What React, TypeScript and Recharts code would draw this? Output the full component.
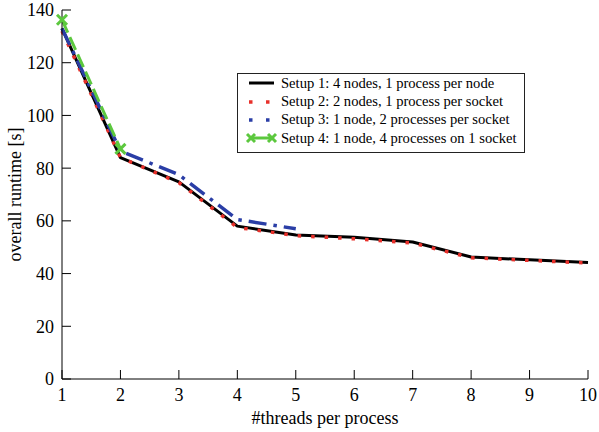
import React from 'react';
import { LineChart, Line, XAxis, YAxis, Legend } from 'recharts';

const threads = [1, 2, 3, 4, 5, 6, 7, 8, 9, 10];
const setup1 = [133, 84, 74.8, 58, 54.6, 53.8, 52, 46.3, 45.2, 44.2];
const setup2 = [132, 84, 74.5, 57.5, 54.4, 53.2, 51.6, 46, 45, 44];
const setup3: (number | null)[] = [133, 86.5, 77.5, 60.5, 57, null, null, null, null, null];
const setup4: (number | null)[] = [136.3, 87.3, null, null, null, null, null, null, null, null];

const xTicks = [1, 2, 3, 4, 5, 6, 7, 8, 9, 10];
const yTicks = [0, 20, 40, 60, 80, 100, 120, 140];
const yMinorTicks = [10, 30, 50, 70, 90, 110, 130];

const seriesNames = [
  'Setup 1: 4 nodes, 1 process per node',
  'Setup 2: 2 nodes, 1 process per socket',
  'Setup 3: 1 node, 2 processes per socket',
  'Setup 4: 1 node, 4 processes on 1 socket',
];

const data = threads.map((t, i) => ({
  t,
  s1: setup1[i],
  s2: setup2[i],
  s3: setup3[i],
  s4: setup4[i],
}));

const FONT = '"Liberation Serif", "Times New Roman", serif';
const BLACK = '#000000';
const RED = '#e8302a';
const BLUE = '#2a3ea6';
const GREEN = '#5cc83e';

const XMark = (props: any) => {
  const { cx, cy } = props;
  if (cx == null || cy == null || props.value == null) return null;
  const r = 5;
  return (
    <g>
      <line x1={cx - r} y1={cy - r} x2={cx + r} y2={cy + r} stroke={GREEN} strokeWidth={3} />
      <line x1={cx - r} y1={cy + r} x2={cx + r} y2={cy - r} stroke={GREEN} strokeWidth={3} />
    </g>
  );
};

const Swatch = ({ idx }: { idx: number }) => {
  const y = 9;
  if (idx === 0)
    return <line x1={0} y1={y} x2={25} y2={y} stroke={BLACK} strokeWidth={3} />;
  if (idx === 1 || idx === 2) {
    const c = idx === 1 ? RED : BLUE;
    return (
      <g>
        <rect x={0} y={y - 1.75} width={3.5} height={3.5} fill={c} />
        <rect x={17} y={y - 1.75} width={3.5} height={3.5} fill={c} />
      </g>
    );
  }
  return (
    <g>
      <line x1={2} y1={y} x2={23} y2={y} stroke={GREEN} strokeWidth={3} />
      <line x1={-2} y1={y - 4} x2={6} y2={y + 4} stroke={GREEN} strokeWidth={3} />
      <line x1={-2} y1={y + 4} x2={6} y2={y - 4} stroke={GREEN} strokeWidth={3} />
      <line x1={19} y1={y - 4} x2={27} y2={y + 4} stroke={GREEN} strokeWidth={3} />
      <line x1={19} y1={y + 4} x2={27} y2={y - 4} stroke={GREEN} strokeWidth={3} />
    </g>
  );
};

const LegendBox = () => (
  <div
    style={{
      border: '1px solid #222',
      background: '#fff',
      width: 286,
      padding: '0 0 4px 0',
      boxSizing: 'content-box',
      fontFamily: FONT,
      fontSize: 14.6,
      color: '#000',
    }}
  >
    {seriesNames.map((n, i) => (
      <div key={n} style={{ display: 'flex', alignItems: 'center', height: 18.4 }}>
        <svg width={30} height={18} style={{ marginLeft: 11, marginRight: 2, overflow: 'visible' }}>
          <Swatch idx={i} />
        </svg>
        <span style={{ whiteSpace: 'nowrap' }}>{n}</span>
      </div>
    ))}
  </div>
);

const YLabel = (props: any) => {
  const vb = props.viewBox || {};
  const cx = 15;
  const cy = (vb.y ?? 10) + (vb.height ?? 369) / 2;
  return (
    <text
      x={cx}
      y={cy}
      transform={`rotate(-90 ${cx} ${cy})`}
      textAnchor="middle"
      dominantBaseline="central"
      fontFamily={FONT}
      fontSize={18}
      fill="#000"
    >
      overall runtime [s]
    </text>
  );
};

const XLabel = (props: any) => {
  const vb = props.viewBox || {};
  const cx = (vb.x ?? 62) + (vb.width ?? 526) / 2;
  const y = (vb.y ?? 379) + 45;
  return (
    <text x={cx} y={y} textAnchor="middle" fontFamily={FONT} fontSize={18} fill="#000">
      #threads per process
    </text>
  );
};

const tickStyle = { fontSize: 18, fill: '#000', fontFamily: FONT };

export default function App() {
  return (
    <div style={{ position: 'absolute', left: 0, top: 0, background: '#fff' }}>
      <LineChart
        width={599}
        height={432}
        data={data}
        margin={{ top: 10, right: 11, left: 0, bottom: 0 }}
        style={{ fontFamily: FONT }}
      >
        <XAxis
          dataKey="t"
          type="number"
          domain={[1, 10]}
          ticks={xTicks}
          interval={0}
          height={53}
          tickSize={-9}
          tickMargin={18}
          tick={tickStyle}
          stroke="#000"
          tickLine={{ stroke: '#000' }}
          axisLine={{ stroke: '#000' }}
          label={<XLabel />}
        />
        <XAxis
          xAxisId="top"
          dataKey="t"
          type="number"
          orientation="top"
          domain={[1, 10]}
          ticks={xTicks}
          interval={0}
          height={0}
          tickSize={-9}
          tick={false}
          tickLine={{ stroke: '#000' }}
          axisLine={{ stroke: '#000' }}
        />
        <YAxis
          type="number"
          domain={[0, 140]}
          ticks={yTicks}
          interval={0}
          width={62}
          tickSize={-9}
          tickMargin={17}
          tick={tickStyle}
          tickLine={{ stroke: '#000' }}
          axisLine={{ stroke: '#000' }}
          label={<YLabel />}
        />
        <YAxis
          yAxisId="minorL"
          type="number"
          domain={[0, 140]}
          ticks={yMinorTicks}
          interval={0}
          width={0}
          tickSize={-5}
          tick={false}
          tickLine={{ stroke: '#000' }}
          axisLine={false}
        />
        <YAxis
          yAxisId="right"
          orientation="right"
          type="number"
          domain={[0, 140]}
          ticks={yTicks}
          interval={0}
          width={0}
          tickSize={-9}
          tick={false}
          tickLine={{ stroke: '#000' }}
          axisLine={{ stroke: '#000' }}
        />
        <YAxis
          yAxisId="minorR"
          orientation="right"
          type="number"
          domain={[0, 140]}
          ticks={yMinorTicks}
          interval={0}
          width={0}
          tickSize={-5}
          tick={false}
          tickLine={{ stroke: '#000' }}
          axisLine={false}
        />
        <Legend
          layout="vertical"
          align="center"
          verticalAlign="middle"
          content={() => <LegendBox />}
          wrapperStyle={{ position: 'absolute', left: 237, top: 73, width: 288, height: 'auto' }}
        />
        <Line
          dataKey="s1"
          name={seriesNames[0]}
          stroke={BLACK}
          strokeWidth={3}
          dot={false}
          isAnimationActive={false}
          strokeLinejoin="round"
        />
        <Line
          dataKey="s2"
          name={seriesNames[1]}
          stroke={RED}
          strokeWidth={3.5}
          strokeDasharray="3.5 10"
          dot={false}
          isAnimationActive={false}
        />
        <Line
          dataKey="s3"
          name={seriesNames[2]}
          stroke={BLUE}
          strokeWidth={3.5}
          strokeDasharray="18 7 3.5 7"
          dot={false}
          isAnimationActive={false}
          connectNulls={false}
        />
        <Line
          dataKey="s4"
          name={seriesNames[3]}
          stroke={GREEN}
          strokeWidth={3}
          strokeDasharray="14 5"
          dot={<XMark />}
          isAnimationActive={false}
          connectNulls={false}
        />
      </LineChart>
    </div>
  );
}
